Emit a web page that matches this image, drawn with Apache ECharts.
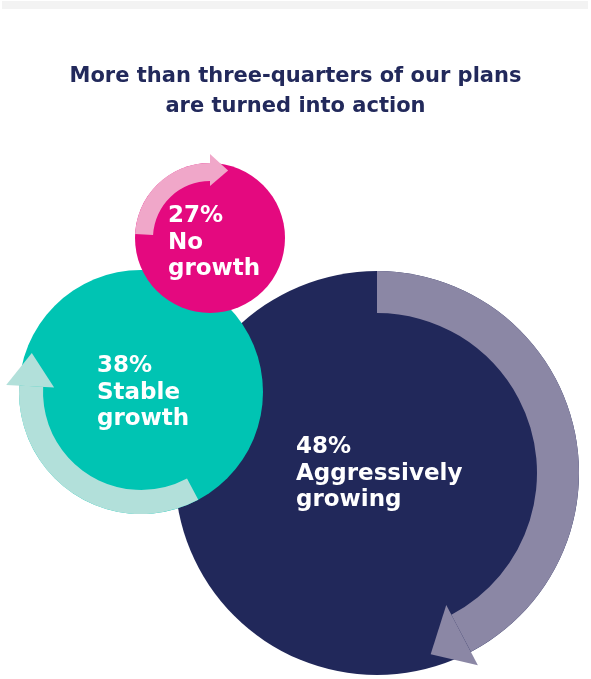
<!DOCTYPE html>
<html>
<head>
<meta charset="utf-8">
<script src="https://cdn.jsdelivr.net/npm/echarts@6/dist/echarts.min.js"></script>
<style>
  html, body { margin: 0; padding: 0; background: #ffffff; }
  #chart { width: 591px; height: 679px; }
</style>
</head>
<body>
<div id="chart"></div>
<script>
// Share of plans by outcome
const categories = ['No growth', 'Stable growth', 'Aggressively growing'];
const shares = [27, 38, 48];
const labelWords = [['No', 'growth'], ['Stable', 'growth'], ['Aggressively', 'growing']];

const titleLines = ['More than three-quarters of our plans', 'are turned into action'];

// Bubble placement on a canvas-sized value grid (x: 0..591, y: 0..679 downward).
// Angles are in degrees, measured clockwise from 3 o'clock.
const bubbleLayout = [
  { cx: 210, cy: 238, r: 75,  fill: '#e4097f', arrow: '#f0a7c9',
    band: [57, 75],   from: 183, to: 270, head: { r0: 52,  r1: 84,  tipAngle: 285,  tipR: 70 },
    labelX: 168, labelY: 203, z: 30 },
  { cx: 141, cy: 392, r: 122, fill: '#00c4b3', arrow: '#b2e0da',
    band: [98, 122],  from: 62,  to: 183, head: { r0: 87,  r1: 135, tipAngle: 199.7, tipR: 116 },
    labelX: 97, labelY: 353, z: 20 },
  { cx: 377, cy: 473, r: 202, fill: '#21285a', arrow: '#8b87a5',
    band: [160, 202], from: -90, to: 62.3, head: { r0: 149, r1: 217, tipAngle: 73.5, tipR: 189 },
    labelX: 296, labelY: 434, z: 10 }
];

const FONT = '"DejaVu Sans", "Open Sans", sans-serif';
const rad = d => d * Math.PI / 180;

const chart = echarts.init(document.getElementById('chart'), null, { renderer: 'canvas' });

function renderBubble(params, api) {
  const i = params.dataIndex;
  const L = bubbleLayout[i];
  const c = api.coord([api.value(0), api.value(1)]);
  const k = api.size([1, 1])[0];
  const cx = c[0], cy = c[1];
  const pt = (deg, r) => [cx + r * k * Math.cos(rad(deg)), cy + r * k * Math.sin(rad(deg))];
  const h = L.head;
  const text = api.value(2) + '%\n' + labelWords[i].join('\n');
  const tp = api.coord([L.labelX, L.labelY]);
  return {
    type: 'group',
    children: [
      { type: 'circle', z2: L.z,
        shape: { cx: cx, cy: cy, r: L.r * k },
        style: { fill: L.fill } },
      { type: 'sector', z2: L.z + 1,
        shape: { cx: cx, cy: cy, r0: L.band[0] * k, r: L.band[1] * k,
                 startAngle: rad(L.from), endAngle: rad(L.to), clockwise: true },
        style: { fill: L.arrow } },
      { type: 'polygon', z2: L.z + 1,
        shape: { points: [pt(L.to, h.r0), pt(h.tipAngle, h.tipR), pt(L.to, h.r1)] },
        style: { fill: L.arrow } },
      { type: 'text', z2: L.z + 2,
        x: tp[0], y: tp[1],
        style: { text: text, fill: '#ffffff', fontSize: 23, fontWeight: 'bold',
                 fontFamily: FONT, lineHeight: 26.5, align: 'left', verticalAlign: 'top' } }
    ]
  };
}

chart.setOption({
  animation: false,
  backgroundColor: '#ffffff',
  title: {
    text: titleLines.join('\n'),
    left: 'center',
    top: 62,
    padding: 0,
    textStyle: { fontSize: 21, fontWeight: 'bold', color: '#22295b', fontFamily: FONT, lineHeight: 30 }
  },
  graphic: [
    { type: 'rect', left: 2, top: 1, shape: { width: 586, height: 8 }, style: { fill: '#f3f3f3' }, z: -1 }
  ],
  grid: { left: 0, right: 0, top: 0, bottom: 0 },
  xAxis: { type: 'value', min: 0, max: 591, show: false },
  yAxis: { type: 'value', min: 0, max: 679, inverse: true, show: false },
  series: [{
    type: 'custom',
    name: 'Plans',
    renderItem: renderBubble,
    data: shares.map((v, i) => ({ name: categories[i], value: [bubbleLayout[i].cx, bubbleLayout[i].cy, v] })),
    silent: true
  }]
});
</script>
</body>
</html>
